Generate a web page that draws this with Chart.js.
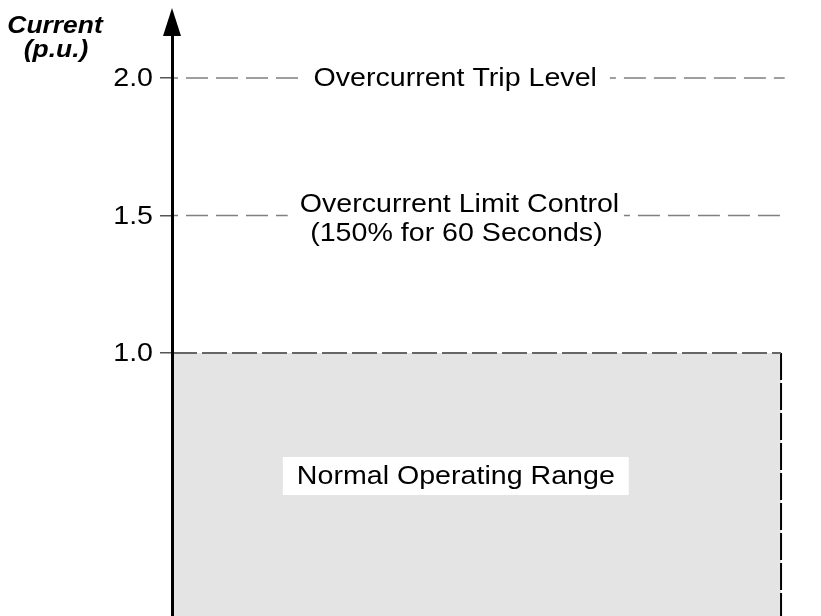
<!DOCTYPE html>
<html>
<head>
<meta charset="utf-8">
<script src="https://cdn.jsdelivr.net/npm/chart.js@4"></script>
<style>
  body { margin: 0; background: #fff; }
  canvas { display: block; }
</style>
</head>
<body>
<canvas id="currentChart" width="821" height="616"></canvas>
<script>
// Current levels (p.u.) shown on the axis
const levelTicks = [1.0, 1.5, 2.0];
const tickLabels = ['1.0', '1.5', '2.0'];

// Threshold lines, broken where the caption sits: [xStart, xEnd] pairs
const tripLevel = 2.0;
const tripSegments = [[0, 2.18], [7.19, 10.06]];
const limitLevel = 1.5;
const limitSegments = [[0, 1.9], [7.42, 10.03]];

// Normal operating band: from the axis to the right edge, up to 1.0 p.u.
const normalLevel = 1.0;
const normalX = [0, 10];

const axisTitle = ['Current', '(p.u.)'];
const tripLabel = 'Overcurrent Trip Level';
const limitLabel = ['Overcurrent Limit Control', '(150% for 60 Seconds)'];
const rangeLabel = 'Normal Operating Range';

const FONT = '"Liberation Sans", Arial, sans-serif';
const textStretch = 1.1;

// turn [[a,b],[c,d]] into points with a null gap between the pieces
function segmentPoints(segs, level) {
    const pts = [];
    segs.forEach(function (s, i) {
        if (i > 0) pts.push({ x: (segs[i - 1][1] + s[0]) / 2, y: null });
        pts.push({ x: s[0], y: level }, { x: s[1], y: level });
    });
    return pts;
}

function wideText(ctx, text, x, y, align) {
    ctx.save();
    ctx.translate(x, y);
    ctx.scale(textStretch, 1);
    ctx.textAlign = align;
    ctx.fillText(text, 0, 0);
    ctx.restore();
}

const labelsPlugin = {
    id: 'labels',
    afterDraw(chart) {
        const ctx = chart.ctx;
        const xs = chart.scales.x;
        const ys = chart.scales.y;
        const axisX = chart.chartArea.left;

        // arrow head on top of the current axis
        ctx.save();
        ctx.fillStyle = '#000';
        ctx.beginPath();
        ctx.moveTo(axisX, 8);
        ctx.lineTo(axisX - 9, 36);
        ctx.lineTo(axisX + 9, 36);
        ctx.closePath();
        ctx.fill();

        ctx.textBaseline = 'middle';
        ctx.fillStyle = '#000';

        // tick labels
        ctx.font = '26px ' + FONT;
        levelTicks.forEach(function (v, i) {
            wideText(ctx, tickLabels[i], axisX - 19, ys.getPixelForValue(v) + 1, 'right');
        });

        // axis title
        ctx.font = 'italic bold 24px ' + FONT;
        ctx.textBaseline = 'alphabetic';
        wideText(ctx, axisTitle[0], 55, 33, 'center');
        wideText(ctx, axisTitle[1], 56, 57, 'center');

        ctx.font = '26px ' + FONT;
        ctx.textBaseline = 'middle';
        wideText(ctx, tripLabel, xs.getPixelForValue(4.65), ys.getPixelForValue(tripLevel) + 1, 'center');
        wideText(ctx, limitLabel[0], xs.getPixelForValue(4.72), ys.getPixelForValue(1.54), 'center');
        wideText(ctx, limitLabel[1], xs.getPixelForValue(4.67), ys.getPixelForValue(1.435), 'center');

        // boxed caption inside the shaded band
        const cx = xs.getPixelForValue(4.66);
        const cy = ys.getPixelForValue(0.553);
        const w = ctx.measureText(rangeLabel).width * textStretch + 28;
        ctx.fillStyle = '#fff';
        ctx.fillRect(cx - w / 2, cy - 19, w, 38);
        ctx.fillStyle = '#000';
        wideText(ctx, rangeLabel, cx, cy + 1, 'center');
        ctx.restore();
    }
};

new Chart(document.getElementById('currentChart'), {
    type: 'line',
    data: {
        datasets: [{
            // shaded normal range with its dashed upper limit
            data: normalX.map(x => ({ x: x, y: normalLevel })),
            borderColor: '#666',
            borderWidth: 2,
            borderDash: [25, 5],
            backgroundColor: '#e4e4e4',
            fill: 'start',
            pointRadius: 0
        }, {
            // dashed right edge of the band
            data: [{ x: normalX[1], y: normalLevel }, { x: normalX[1], y: 0 }],
            borderColor: '#000',
            borderWidth: 2,
            borderDash: [27, 3],
            pointRadius: 0,
            fill: false
        }, {
            data: segmentPoints(tripSegments, tripLevel),
            borderColor: '#808080',
            borderWidth: 1.5,
            borderDash: [22, 8],
            borderDashOffset: 16,
            pointRadius: 0,
            fill: false
        }, {
            data: segmentPoints(limitSegments, limitLevel),
            borderColor: '#808080',
            borderWidth: 1.5,
            borderDash: [22, 8],
            borderDashOffset: 16,
            pointRadius: 0,
            fill: false
        }]
    },
    options: {
        responsive: false,
        animation: false,
        spanGaps: false,
        layout: { padding: { top: 30, right: 9.5, left: 0, bottom: 0 } },
        plugins: {
            legend: { display: false },
            tooltip: { enabled: false },
            // paint the shaded band under every line
            filler: { drawTime: 'beforeDatasetsDraw' }
        },
        scales: {
            x: {
                type: 'linear',
                min: 0,
                max: 10.5,
                display: false
            },
            y: {
                type: 'linear',
                min: 0.044,
                max: 2.175,
                afterBuildTicks: function (scale) {
                    scale.ticks = levelTicks.map(v => ({ value: v }));
                },
                afterFit: function (scale) {
                    scale.width = 172;
                },
                // z above 0 keeps the axis line over the shaded band
                border: { display: true, color: '#000', width: 3, z: 1 },
                grid: {
                    drawOnChartArea: false,
                    drawTicks: true,
                    tickLength: 12,
                    tickColor: '#555',
                    lineWidth: 1.5
                },
                ticks: { display: false }
            }
        }
    },
    plugins: [labelsPlugin]
});
</script>
</body>
</html>
